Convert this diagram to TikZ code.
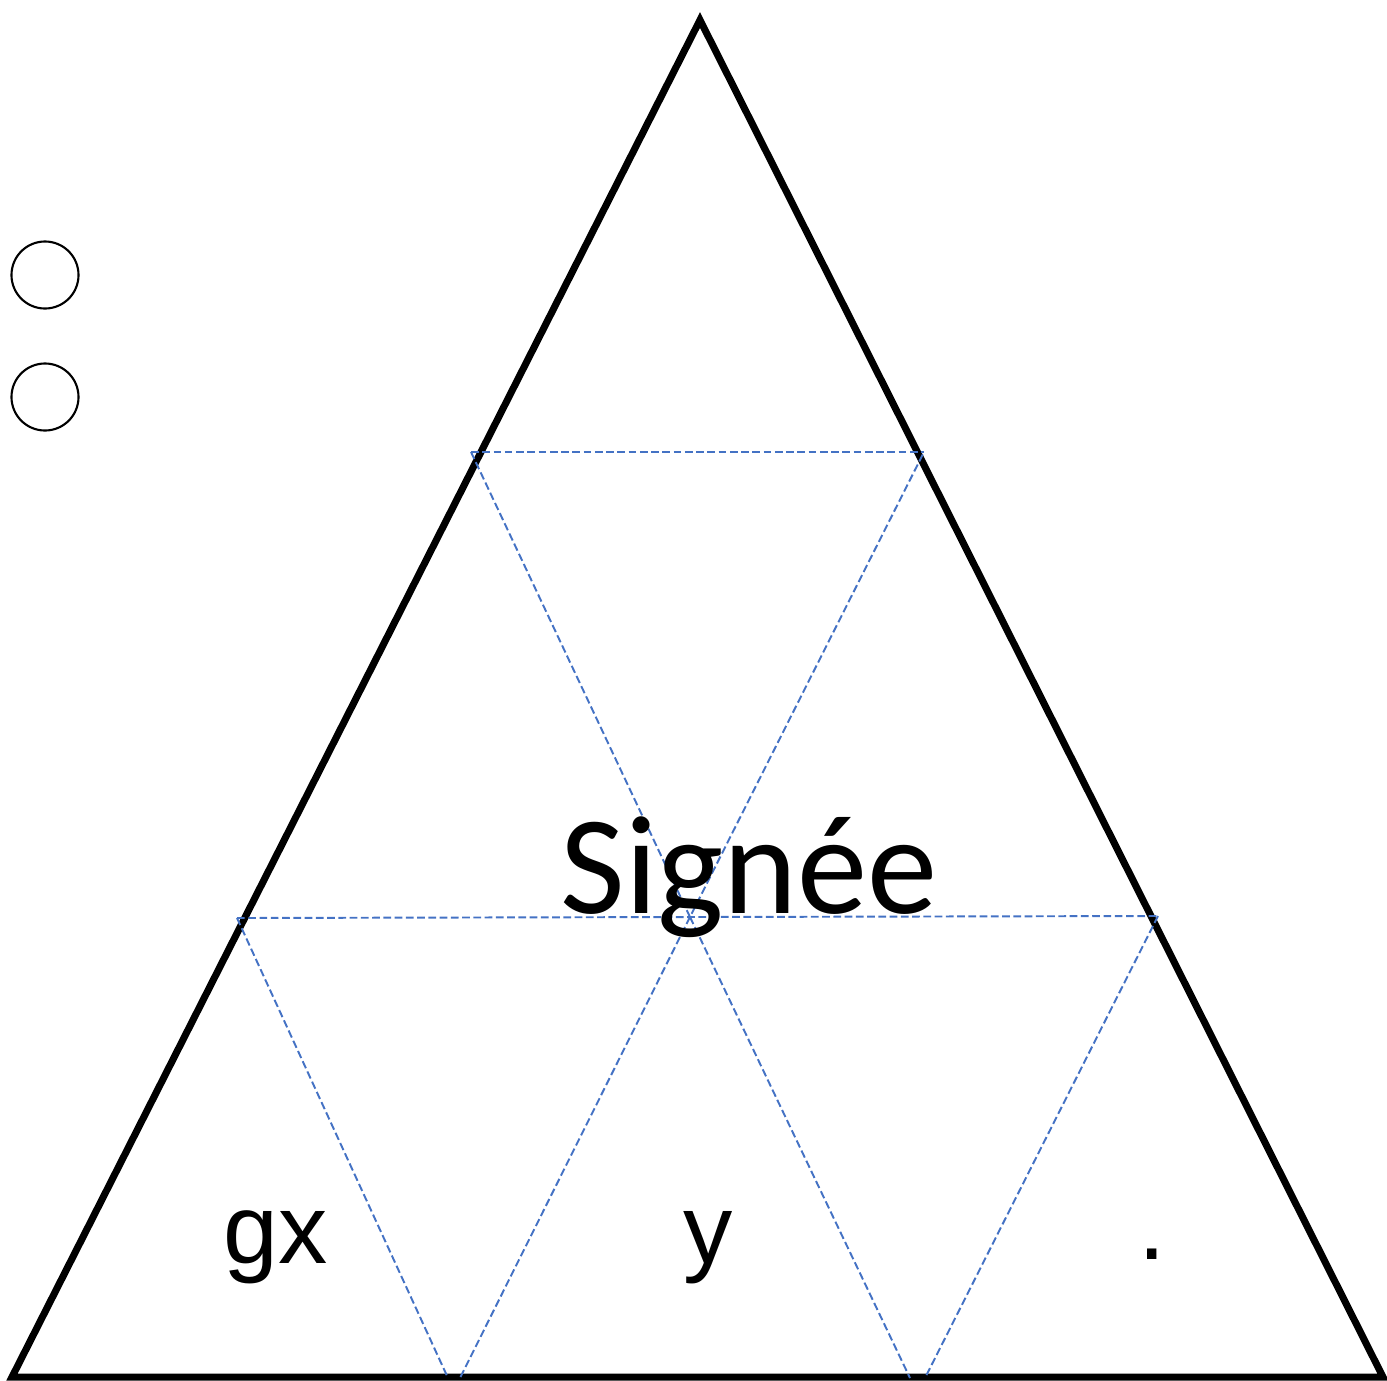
\documentclass[tikz,border=0pt]{standalone}
\usepackage{fontspec}
\usepackage{tikz}
\usetikzlibrary{positioning,calc}
\newfontfamily\calibri{Carlito}
\newfontfamily\arial{Liberation Sans}
\definecolor{guideblue}{HTML}{4472C4}

\begin{document}
\begin{tikzpicture}[x=0.01cm, y=-0.01cm,
        tri/.style={draw=black, line width=2pt, line join=miter},
        guide/.style={draw=guideblue, line width=0.55pt, dash pattern=on 2.2pt off 1pt},
        ring/.style={draw=black, line width=0.6pt, circle, minimum size=0.67cm, inner sep=0pt},
        lbl/.style={inner sep=0pt, font=\arial\fontsize{28}{32}\selectfont}]
        \useasboundingbox (0,0) rectangle (1387,1381);
        % outer triangle
        \coordinate (top) at (700,20);
        \coordinate (bl) at (12,1377);
        \coordinate (br) at (1383,1377);
        \draw[tri] (top) -- (br) -- (bl) -- cycle;
        % dashed subdivision
        \coordinate (ul) at (471,452);
        \coordinate (ur) at (924,452);
        \coordinate (ml) at (237,918);
        \coordinate (mr) at (1158,916);
        \coordinate (mc) at (690,917);
        \coordinate (b1) at (448,1378);
        \coordinate (b2) at (460,1378);
        \coordinate (b3) at (910,1378);
        \coordinate (b4) at (925,1378);
        \draw[guide] (ul) -- (ur);
        \draw[guide] (ml) -- (mr);
        \draw[guide] (ul) -- (mc) -- (ur);
        \draw[guide] (ml) -- (b1);
        \draw[guide] (mc) -- (b2);
        \draw[guide] (mc) -- (b3);
        \draw[guide] (mr) -- (b4);
        % small circles on the left
        \node[ring] (c1) at (45,275) {};
        \node[ring] (c2) at (45,397) {};
        % labels
        \node[inner sep=0pt, anchor=base, font=\calibri\fontsize{40}{48}\selectfont] (sig) at (749,913) {Signée};
        \node[lbl, anchor=base west] (gx) at (223,1263) {gx};
        \node[lbl, anchor=base] (yy) at (708,1263) {y};
        \node[lbl, anchor=base] (dot) at (1152,1259) {.};
      \end{tikzpicture}
\end{document}
